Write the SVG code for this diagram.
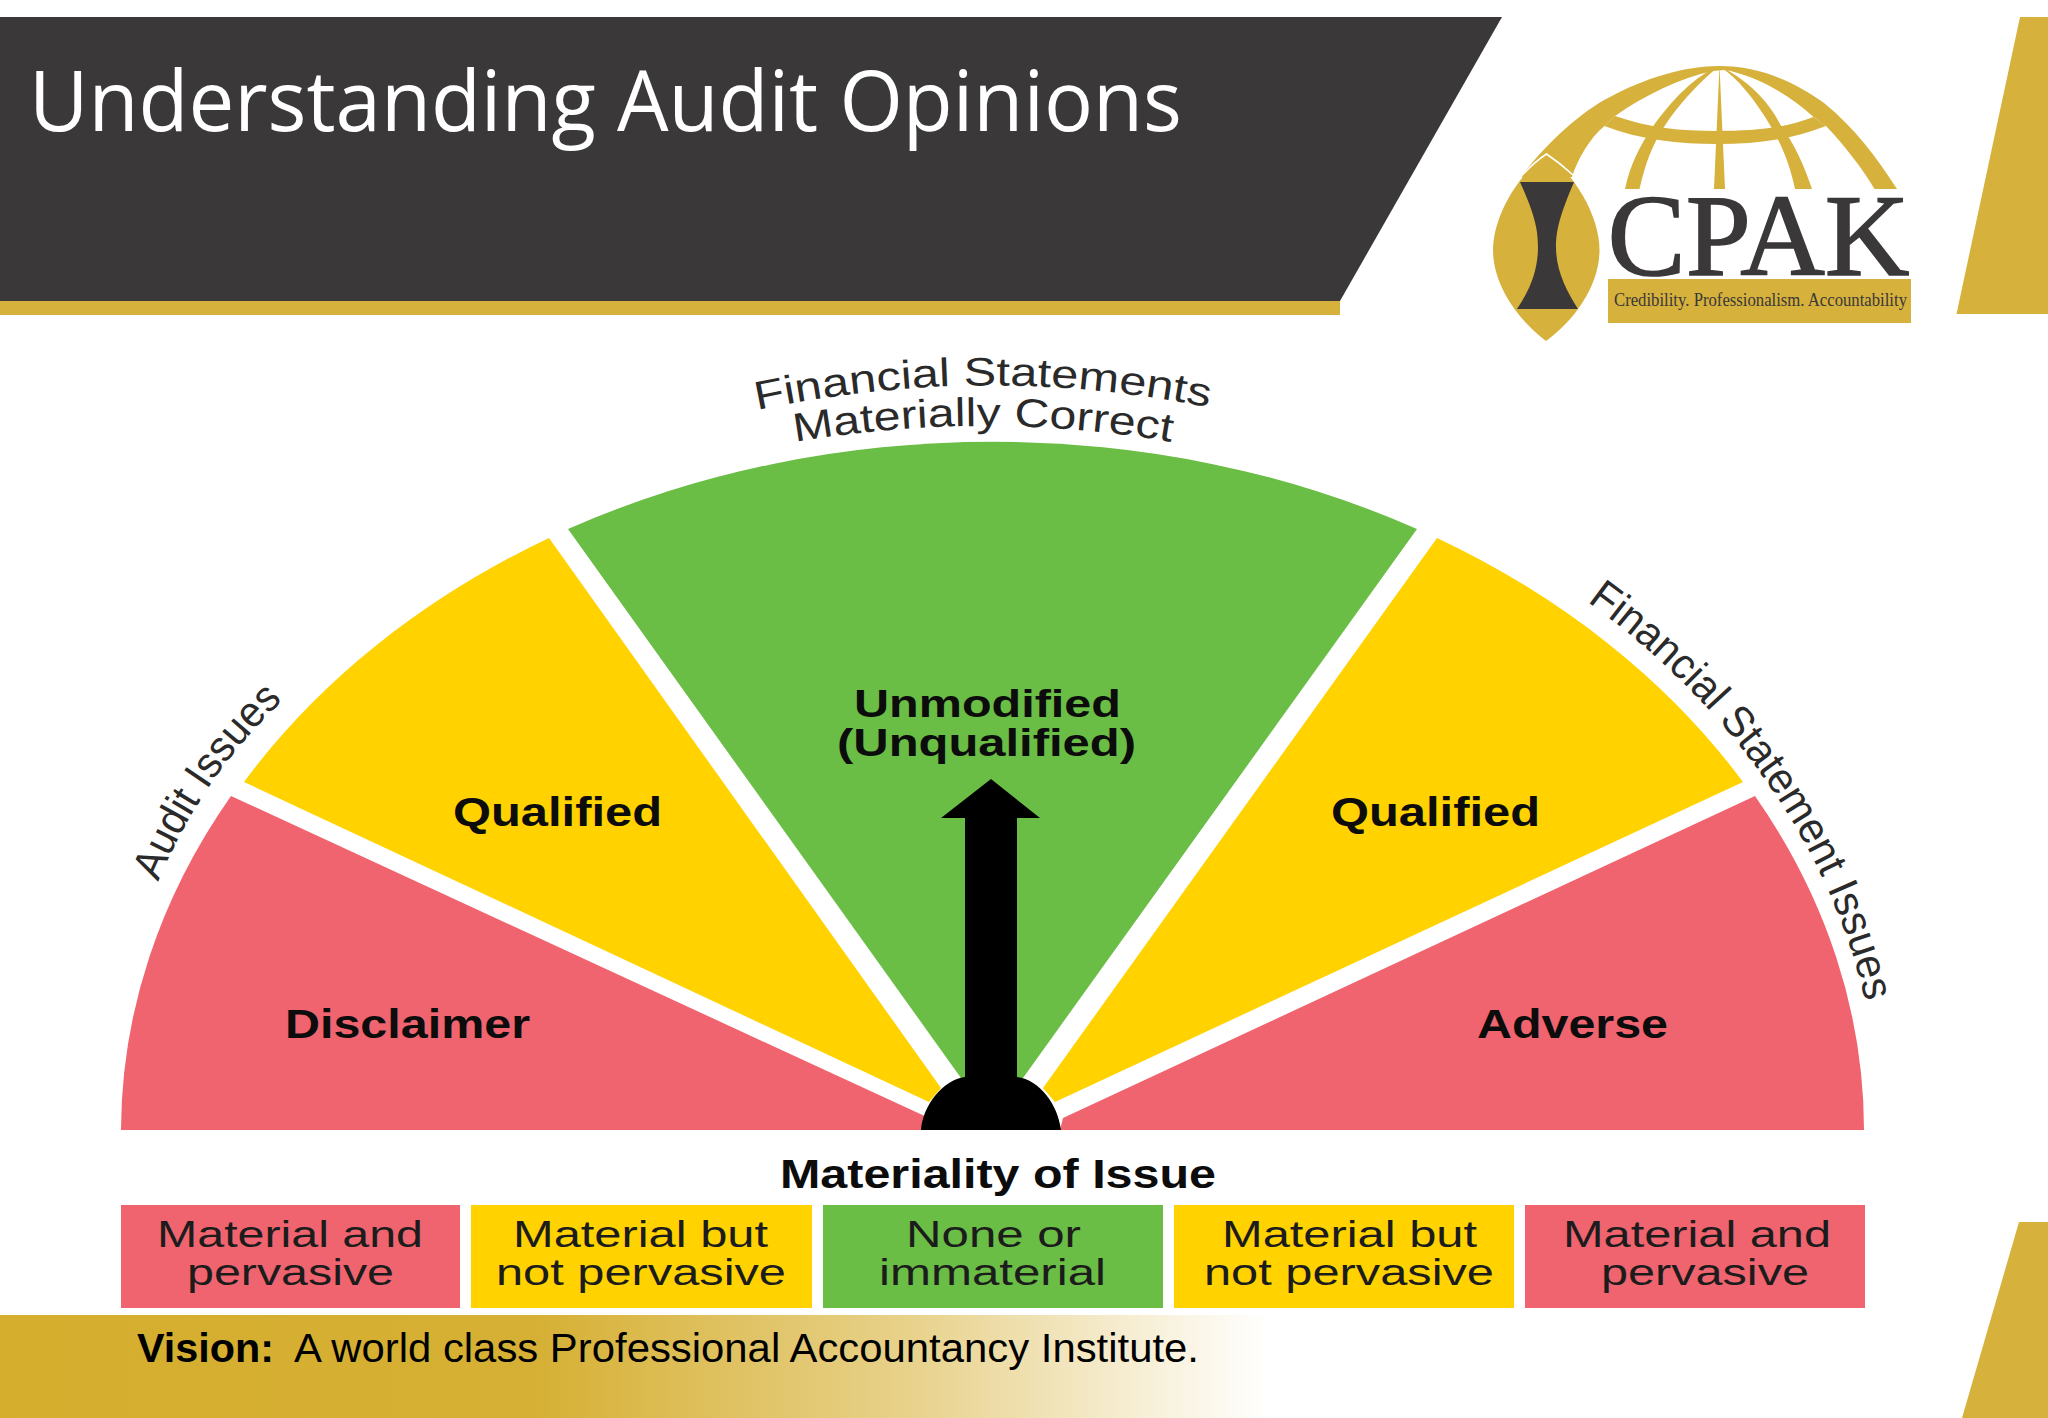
<svg xmlns="http://www.w3.org/2000/svg" width="2048" height="1418" viewBox="0 0 2048 1418">
<style>
.gold{fill:#d6b13c}
.dark{fill:#3a3839}
.red{fill:#f0646f}
.yel{fill:#ffd200}
.grn{fill:#6abd45}
.b{font-family:"Liberation Sans",Arial,sans-serif;font-weight:700;fill:#0c0c0c;font-size:40px}
.u{font-size:38px}
.r{font-family:"Liberation Sans",Arial,sans-serif;fill:#1c1c1c;font-size:37px}
.c{font-family:"Liberation Sans",Arial,sans-serif;fill:#2a2a2a}
.serif{font-family:"Liberation Serif","Times New Roman",serif;fill:#3a3839}
</style>
<defs>
<linearGradient id="fade" gradientUnits="userSpaceOnUse" x1="0" y1="0" x2="1270" y2="0">
<stop offset="0" stop-color="#d5ae2e"/>
<stop offset="0.42" stop-color="#d6b034"/>
<stop offset="0.72" stop-color="#e8d28c"/>
<stop offset="1" stop-color="#ffffff"/>
</linearGradient>
<path id="arcTop1" d="M757,410 Q985,362 1212,408"/>
<path id="arcTop2" d="M795,442 Q985,410 1172,442"/>
<path id="arcRight" d="M1587,601.5 A888 712 0 0 1 1865,1000"/>
<path id="arcLeft" d="M158,882 Q205,770 288,696"/>
</defs>
<rect width="2048" height="1418" fill="#ffffff"/>

<g id="header">
<polygon class="dark" points="0,17 1502,17 1340,301 0,301"/>
<rect class="gold" x="0" y="301" width="1340" height="14"/>
<text x="29" y="131" font-family="'Open Sans',sans-serif" font-size="84" fill="#ffffff" textLength="1153" lengthAdjust="spacingAndGlyphs">Understanding Audit Opinions</text>
<polygon class="gold" points="2020,17 2048,17 2048,314 1956.5,314"/>
</g>

<g id="logo">
<path class="gold" d="M1520.6,177 C1545,145 1580,112 1610,97 C1645,78 1685,66 1719,66 C1760,66 1795,82 1824,103 C1855,128 1877,158 1897,189 L1874.5,189 C1862,168 1845,146 1826,126 L1813.5,117 C1790,95 1755,75 1725,70 L1713,71 C1680,78 1645,95 1615,116 L1604.5,126 C1590,138 1578,158 1572,177 Z"/>
<path class="gold" d="M1615,116 C1650,128 1680,131 1717,131 C1755,131 1785,128 1813.5,117 L1826,126 C1790,140 1755,144 1717,144 C1680,144 1640,140 1604.5,126 Z"/>
<path class="gold" d="M1719.5,66 L1725,189 L1714,189 Z"/>
<path class="gold" d="M1719,66 C1695,76 1672,100 1654,125 C1640,145 1630,165 1625,189 L1639.5,189 C1645,165 1652,145 1664,127 C1680,102 1700,82 1719,66 Z"/>
<path class="gold" d="M1719,66 C1738,78 1755,100 1770,125 C1782,145 1790,165 1795,189 L1812,189 C1804,165 1795,145 1780,124 C1768,100 1745,78 1719,66 Z"/>
<path class="gold" d="M1546.5,155 C1520,172 1493,215 1493,250 C1493,285 1518,320 1546,341 C1575,320 1599.5,285 1599.5,250 C1599.5,215 1573,172 1546.5,155 Z"/>
<path d="M1520.6,177 Q1533,163 1546.5,154 Q1560,163 1573,175" fill="none" stroke="#ffffff" stroke-width="1.6"/>
<path class="dark" d="M1520,182 L1574,182 C1560,215 1556,230 1556,247 C1556,270 1566,290 1578,309 L1517,309 C1530,290 1538,270 1538,247 C1538,230 1535,215 1520,182 Z"/>
<text class="serif" x="1607.5" y="275" font-size="116" stroke="#3a3839" stroke-width="1.5" textLength="302" lengthAdjust="spacingAndGlyphs">CPAK</text>
<rect class="gold" x="1608" y="279" width="303" height="44"/>
<text class="serif" x="1614" y="306" font-size="19" textLength="293" lengthAdjust="spacingAndGlyphs">Credibility. Professionalism. Accountability</text>
</g>

<g id="seg-disclaimer">
<path class="red" d="M121,1130 A872 690 0 0 1 231,796 L929,1118 L923,1130 Z"/>
<text class="b" x="285" y="1038" textLength="245" lengthAdjust="spacingAndGlyphs">Disclaimer</text>
</g>
<g id="seg-qualified-left">
<path class="yel" d="M244,782 A872 690 0 0 1 549,538 L941,1088 L929,1102 Z"/>
<text class="b" x="453" y="826" textLength="209" lengthAdjust="spacingAndGlyphs">Qualified</text>
</g>
<g id="seg-unmodified">
<path class="grn" d="M568,529 A872 690 0 0 1 1417,529 L1023,1078 L961,1078 Z"/>
<text class="b u" x="854" y="717" textLength="267" lengthAdjust="spacingAndGlyphs">Unmodified</text>
<text class="b u" x="837" y="756" textLength="299" lengthAdjust="spacingAndGlyphs">(Unqualified)</text>
</g>
<g id="seg-qualified-right">
<path class="yel" d="M1437,538 A872 690 0 0 1 1743,782 L1055,1102 L1043,1088 Z"/>
<text class="b" x="1331" y="826" textLength="209" lengthAdjust="spacingAndGlyphs">Qualified</text>
</g>
<g id="seg-adverse">
<path class="red" d="M1755,796 A872 690 0 0 1 1864,1130 L1060,1130 L1063,1118 Z"/>
<text class="b" x="1477" y="1038" textLength="191" lengthAdjust="spacingAndGlyphs">Adverse</text>
</g>

<g id="needle">
<path d="M921,1130 C923,1105 943,1080 965,1077 L965,818 L941,818 L991,779 L1040,818 L1017,818 L1017,1077 C1040,1080 1058,1105 1061,1130 Z" fill="#000000"/>
</g>

<g id="arc-labels">
<text class="c" font-size="40"><textPath href="#arcTop1" textLength="455" lengthAdjust="spacingAndGlyphs">Financial Statements</textPath></text>
<text class="c" font-size="40"><textPath href="#arcTop2" textLength="378" lengthAdjust="spacingAndGlyphs">Materially Correct</textPath></text>
<text class="c" font-size="43"><textPath href="#arcLeft" textLength="222" lengthAdjust="spacingAndGlyphs">Audit Issues</textPath></text>
<text class="c" font-size="43"><textPath href="#arcRight" textLength="498" lengthAdjust="spacingAndGlyphs">Financial Statement Issues</textPath></text>
</g>

<g id="materiality-title">
<text class="b" x="780" y="1188" textLength="436" lengthAdjust="spacingAndGlyphs">Materiality of Issue</text>
</g>
<g id="legend-1">
<rect class="red" x="121" y="1205" width="339" height="103"/>
<text class="r" x="157" y="1247" textLength="266" lengthAdjust="spacingAndGlyphs">Material and</text>
<text class="r" x="187" y="1285" textLength="207" lengthAdjust="spacingAndGlyphs">pervasive</text>
</g>
<g id="legend-2">
<rect class="yel" x="471" y="1205" width="341" height="103"/>
<text class="r" x="513" y="1247" textLength="255" lengthAdjust="spacingAndGlyphs">Material but</text>
<text class="r" x="496" y="1285" textLength="290" lengthAdjust="spacingAndGlyphs">not pervasive</text>
</g>
<g id="legend-3">
<rect class="grn" x="823" y="1205" width="340" height="103"/>
<text class="r" x="906" y="1247" textLength="175" lengthAdjust="spacingAndGlyphs">None or</text>
<text class="r" x="879" y="1285" textLength="227" lengthAdjust="spacingAndGlyphs">immaterial</text>
</g>
<g id="legend-4">
<rect class="yel" x="1174" y="1205" width="340" height="103"/>
<text class="r" x="1222" y="1247" textLength="255" lengthAdjust="spacingAndGlyphs">Material but</text>
<text class="r" x="1204" y="1285" textLength="290" lengthAdjust="spacingAndGlyphs">not pervasive</text>
</g>
<g id="legend-5">
<rect class="red" x="1525" y="1205" width="340" height="103"/>
<text class="r" x="1563" y="1247" textLength="268" lengthAdjust="spacingAndGlyphs">Material and</text>
<text class="r" x="1601" y="1285" textLength="208" lengthAdjust="spacingAndGlyphs">pervasive</text>
</g>

<g id="footer">
<rect x="0" y="1315" width="1270" height="103" fill="url(#fade)"/>
<polygon class="gold" points="2019,1222 2048,1222 2048,1418 1962,1418"/>
<text x="137" y="1362" font-family="'Liberation Sans',Arial,sans-serif" font-weight="700" font-size="40" fill="#000000" textLength="137" lengthAdjust="spacingAndGlyphs">Vision:</text>
<text x="294" y="1362" font-family="'Liberation Sans',Arial,sans-serif" font-size="40" fill="#000000" textLength="905" lengthAdjust="spacingAndGlyphs">A world class Professional Accountancy Institute.</text>
</g>
</svg>
